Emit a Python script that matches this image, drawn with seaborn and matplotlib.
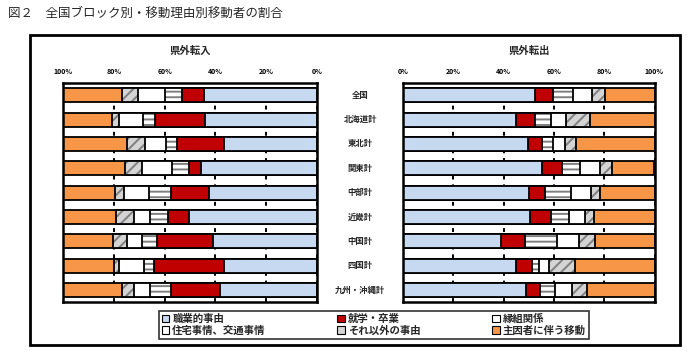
import numpy as np
import pandas as pd
import matplotlib
matplotlib.use('Agg')
import matplotlib.pyplot as plt
import matplotlib.transforms as mtransforms
from matplotlib.patches import Patch, Rectangle
import seaborn as sns

# categories (top to bottom)
cats = ['全国', '北海道計', '東北計', '関東計', '中部計', '近畿計', '中国計', '四国計', '九州・沖縄計']

reasons = ['職業的事由', '就学・卒業', '縁組関係', '住宅事情、交通事情', 'それ以外の事由', '主因者に伴う移動']

# 県外転入 (%)
in_job = [44.6, 44.2, 36.6, 45.5, 42.7, 50.4, 40.8, 36.6, 38.1]
in_school = [8.5, 19.7, 18.5, 4.9, 14.7, 8.4, 22.4, 27.4, 19.3]
in_family = [6.8, 4.6, 4.5, 6.7, 8.8, 7.1, 5.6, 4.3, 8.4]
in_housing = [10.4, 9.4, 8.0, 11.7, 9.6, 6.2, 6.2, 9.6, 6.4]
in_other = [6.3, 2.8, 7.3, 6.7, 3.9, 7.0, 5.5, 2.1, 4.6]
in_follow = [23.4, 19.3, 25.1, 24.5, 20.3, 21.0, 19.4, 19.9, 23.2]

# 県外転出 (%)
out_job = [52.3, 44.8, 49.6, 55.4, 50.1, 50.3, 39.0, 44.8, 48.8]
out_school = [7.3, 7.7, 5.6, 7.7, 6.5, 8.4, 9.4, 6.4, 5.6]
out_family = [8.0, 6.4, 4.5, 7.4, 10.2, 7.4, 12.9, 2.7, 6.2]
out_housing = [7.7, 5.7, 4.8, 7.7, 8.1, 6.1, 8.5, 4.0, 6.4]
out_other = [4.9, 9.7, 4.4, 5.0, 3.6, 3.7, 6.4, 10.3, 6.0]
out_follow = [19.9, 25.7, 31.2, 16.7, 21.5, 24.1, 23.9, 31.8, 27.1]

fills = ['#c6d9f1', '#c00000', '#ffffff', '#ffffff', '#d4d4d4', '#f79646']
hatches = [None, None, '---', None, '///', None]
hatch_cols = ['#c6d9f1', '#c00000', '#7f7f7f', '#ffffff', '#7f7f7f', '#f79646']

sns.set_style('white')
plt.rcParams['font.family'] = ['Noto Sans CJK JP', 'DejaVu Sans']
plt.rcParams['hatch.linewidth'] = 1.4

fig = plt.figure(figsize=(7, 3.55), dpi=100)
ax_in = fig.add_axes([0.09, 0.149, 0.363, 0.617])
ax_out = fig.add_axes([0.576, 0.149, 0.359, 0.617])


def draw_panel(ax, series, title):
    df = pd.DataFrame(np.array(series).T, columns=reasons)
    df['cat'] = cats
    cum = df[reasons].cumsum(axis=1)
    # draw from the longest cumulative bar down so each segment shows
    for k in range(len(reasons) - 1, -1, -1):
        sns.barplot(x=cum[reasons[k]], y=df['cat'], orient='h', ax=ax,
                    color=fills[k], saturation=1, width=0.58, errorbar=None,
                    hatch=hatches[k], edgecolor=hatch_cols[k], linewidth=0)
        sns.barplot(x=cum[reasons[k]], y=df['cat'], orient='h', ax=ax,
                    color='black', fill=False, width=0.58, errorbar=None,
                    edgecolor='black', linewidth=1.3)
    ax.set_xlim(0, 100)
    ax.set_xlabel('')
    ax.set_ylabel('')
    ax.set_yticks([])
    ax.set_xticks([0, 20, 40, 60, 80, 100])
    ax.set_xticklabels([f'{t}%' for t in [0, 20, 40, 60, 80, 100]])
    ax.xaxis.tick_top()
    ax.tick_params(axis='x', length=0, pad=6, labelsize=5, colors='black')
    for lab in ax.get_xticklabels():
        lab.set_fontweight('bold')
    ax.set_axisbelow(True)
    ax.grid(axis='x', color='black', linestyle=(0, (2, 2.5)), linewidth=1.4)
    for s in ax.spines.values():
        s.set_visible(True)
        s.set_color('black')
        s.set_linewidth(1.8)
    ax.set_title(title, fontsize=7.5, fontweight='bold', pad=21)


draw_panel(ax_in, [in_job, in_school, in_family, in_housing, in_other, in_follow], '県外転入')
ax_in.set_xlim(100, 0)
draw_panel(ax_out, [out_job, out_school, out_family, out_housing, out_other, out_follow], '県外転出')

# category labels between the panels
trans = mtransforms.blended_transform_factory(ax_out.transAxes, ax_out.transData)
for i, c in enumerate(cats):
    ax_out.text(-0.171, i, c, transform=trans, ha='center', va='center',
                fontsize=6, fontweight='bold')

fig.text(0.012, 0.962, '図２　全国ブロック別・移動理由別移動者の割合', fontsize=9,
         ha='left', va='center')

# outer frame
fig.add_artist(Rectangle((30 / 700, 10 / 355), 650 / 700, 310 / 355,
                         transform=fig.transFigure, fill=False,
                         edgecolor='black', linewidth=2))

# legend (matplotlib fills columns first)
handles = [Patch(facecolor=fills[k], edgecolor='black', linewidth=0.8) for k in range(6)]
order = [0, 3, 1, 4, 2, 5]
leg = fig.legend([handles[k] for k in order], [reasons[k] for k in order],
                 ncol=3, loc='center', bbox_to_anchor=(0.534, 0.085),
                 prop={'size': 7.5, 'weight': 'bold'}, frameon=True, fancybox=False,
                 edgecolor='black', handlelength=0.7, handleheight=0.7,
                 handletextpad=0.3, columnspacing=6.9, borderpad=0.3,
                 labelspacing=0.12)
leg.get_frame().set_linewidth(1.2)

fig.savefig('out.png', dpi=100)
